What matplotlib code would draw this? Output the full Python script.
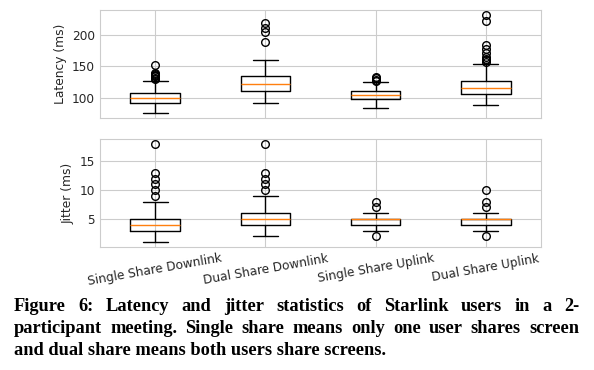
import matplotlib
matplotlib.use("Agg")
import matplotlib.pyplot as plt
import seaborn as sns

sns.set_style("whitegrid")
plt.rcParams['font.family'] = ['DejaVu Sans']

categories = ["Single Share Downlink", "Dual Share Downlink", "Single Share Uplink", "Dual Share Uplink"]

# Latency (ms) box statistics
lat_whislo = [75, 91, 83, 88]
lat_q1 = [92, 111, 98, 106]
lat_med = [99, 122, 104, 116]
lat_q3 = [107, 134, 110, 127]
lat_whishi = [127, 161, 125, 154]
lat_fliers = [
    [130, 132, 134, 135, 137, 138, 140, 152],
    [190, 205, 212, 220],
    [127, 129, 131, 133],
    [157, 160, 162, 166, 172, 178, 185, 224, 233],
]

# Jitter (ms) box statistics
jit_whislo = [1, 2, 3, 3]
jit_q1 = [3, 4, 4, 4]
jit_med = [4, 5, 5, 5]
jit_q3 = [5, 6, 5, 5]
jit_whishi = [8, 9, 6, 6]
jit_fliers = [
    [9, 10, 11, 12, 13, 18],
    [10, 11, 12, 13, 18],
    [2, 7, 8],
    [2, 7, 8, 10],
]

caption_lines = [
    "Figure 6: Latency and jitter statistics of Starlink users in a 2-",
    "participant meeting. Single share means only one user shares screen",
    "and dual share means both users share screens.",
]


def stats(lo, q1, med, q3, hi, fl):
    return [dict(whislo=a, q1=b, med=c, q3=d, whishi=e, fliers=f, label=lab)
            for a, b, c, d, e, f, lab in zip(lo, q1, med, q3, hi, fl, categories)]


fig = plt.figure(figsize=(5.94, 3.70), dpi=100)
ax1 = fig.add_axes([100 / 594, 1 - 118 / 370, 441 / 594, 108 / 370])
ax2 = fig.add_axes([100 / 594, 1 - 247 / 370, 441 / 594, 108 / 370], sharex=ax1)

box_kw = dict(widths=0.45,
              boxprops=dict(color='black', linewidth=1.0),
              whiskerprops=dict(color='black', linewidth=1.0),
              capprops=dict(color='black', linewidth=1.0),
              medianprops=dict(color='C1', linewidth=1.0),
              flierprops=dict(marker='o', markerfacecolor='none', markeredgecolor='black',
                              markersize=5.5, markeredgewidth=1.0))

ax1.bxp(stats(lat_whislo, lat_q1, lat_med, lat_q3, lat_whishi, lat_fliers), **box_kw)
ax2.bxp(stats(jit_whislo, jit_q1, jit_med, jit_q3, jit_whishi, jit_fliers), **box_kw)

ax1.set_yticks([100, 150, 200])
ax2.set_yticks([5, 10, 15])
ax1.set_ylabel("Latency (ms)", fontsize=8.8)
ax2.set_ylabel("Jitter (ms)", fontsize=8.8)
for ax in (ax1, ax2):
    ax.tick_params(axis='both', labelsize=8.7, length=0)
    for s in ax.spines.values():
        s.set_color('.8')
plt.setp(ax1.get_xticklabels(), visible=False)
ax2.set_xticks([1, 2, 3, 4])
ax2.set_xticklabels(categories, rotation=10, fontsize=8.7)

# caption, justified lines
cap_font = dict(family='Liberation Serif', weight='bold', fontsize=13.2, color='black')
left_px, right_px = 14, 579
baselines = [311, 333, 355]
fig.canvas.draw()
renderer = fig.canvas.get_renderer()
for i, (line, yb) in enumerate(zip(caption_lines, baselines)):
    y = 1 - yb / 370
    if i < len(caption_lines) - 1:
        words = line.split(" ")
        widths = []
        for w in words:
            t = fig.text(0, 0, w, **cap_font)
            bb = t.get_window_extent(renderer)
            widths.append(bb.width)
            t.remove()
        gap = (right_px - left_px - sum(widths)) / (len(words) - 1)
        x = left_px
        for w, wd in zip(words, widths):
            fig.text(x / 594, y, w, va='baseline', ha='left', **cap_font)
            x += wd + gap
    else:
        fig.text(left_px / 594, y, line, va='baseline', ha='left', **cap_font)

fig.savefig("out.png", dpi=100)
